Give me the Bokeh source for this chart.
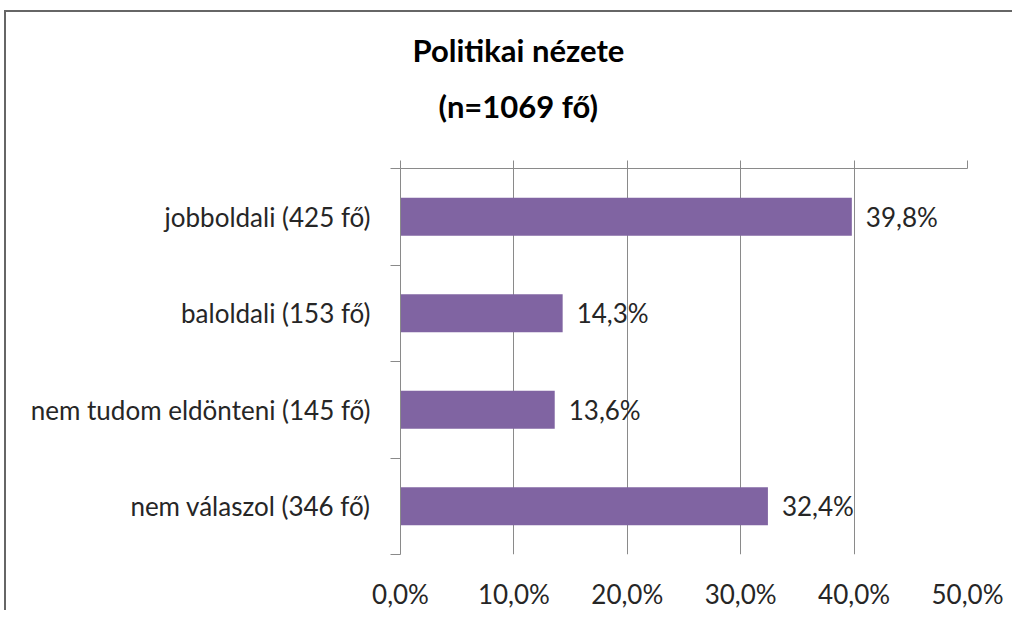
from bokeh.plotting import figure
from bokeh.models import (Range1d, FixedTicker, LinearAxis, Title, ColumnDataSource)
from bokeh.core.properties import value
from bokeh.embed import file_html
from bokeh.resources import INLINE

# ---- data ----
categories = ["jobboldali (425 fő)", "baloldali (153 fő)",
              "nem tudom eldönteni (145 fő)", "nem válaszol (346 fő)"]
shares = [39.8, 14.3, 13.6, 32.4]
x_ticks = [0, 10, 20, 30, 40, 50]
x_tick_labels = ["0,0%", "10,0%", "20,0%", "30,0%", "40,0%", "50,0%"]
title_lines = ["Politikai nézete", "(n=1069 fő)"]

FONT = "Lato"
BAR = "#8064A2"
GRID = "#8a8a8a"
TXT = "#262626"
FS = "26px"

n = len(categories)
ypos = [i + 0.5 for i in range(n)]
labels = [f"{v:.1f}".replace(".", ",") + "%" for v in shares]
src = ColumnDataSource(dict(y=ypos, v=shares, lab=labels, cat=categories))

p = figure(width=1008, height=600, output_backend="svg", toolbar_location=None,
           x_range=Range1d(0, 50), y_range=Range1d(n, 0),
           min_border_left=394, min_border_right=47, min_border_top=156,
           min_border_bottom=56, x_axis_location=None, y_axis_location=None)
p.outline_line_color = None
p.styles = {"box-shadow": "-2px -2px 0px 0px #666666",
            "margin-left": "6px", "margin-top": "12px"}

xt = FixedTicker(ticks=x_ticks, minor_ticks=[])
p.xgrid.ticker = xt
p.xgrid.grid_line_color = GRID
p.ygrid.grid_line_color = None

# top axis: line + outward ticks (as minor ticks), no labels
top = LinearAxis(ticker=FixedTicker(ticks=[], minor_ticks=x_ticks),
                 major_tick_out=0, major_tick_in=0,
                 minor_tick_out=8, minor_tick_in=0,
                 axis_line_color=GRID, minor_tick_line_color=GRID,
                 major_tick_line_color=None, major_label_standoff=0)
p.add_layout(top, "above")

# bottom axis: labels only
bot = LinearAxis(ticker=xt, major_tick_out=0, major_tick_in=0, minor_tick_out=0,
                 axis_line_color=None, major_tick_line_color=None,
                 major_label_standoff=23,
                 major_label_overrides={t: l for t, l in zip(x_ticks, x_tick_labels)},
                 major_label_text_font=FONT, major_label_text_font_size=FS,
                 major_label_text_color=TXT)
p.add_layout(bot, "below")

# left category axis: ticks at boundaries, labels at centres
yt = FixedTicker(ticks=ypos, minor_ticks=list(range(n + 1)))
left = LinearAxis(ticker=yt, major_tick_out=0, major_tick_in=0,
                  minor_tick_out=10, minor_tick_in=0,
                  axis_line_color=GRID, minor_tick_line_color=GRID,
                  major_label_standoff=20,
                  major_label_overrides={y: c for y, c in zip(ypos, categories)},
                  major_label_text_font=FONT, major_label_text_font_size=FS,
                  major_label_text_color=TXT)
p.add_layout(left, "left")

p.hbar(y="y", right="v", left=0, height=0.395, source=src,
       fill_color=BAR, line_color=None)
p.text(x="v", y="y", text="lab", source=src, x_offset=14,
       text_font=value(FONT), text_font_size=FS, text_color=TXT,
       text_baseline="middle", text_align="left")

# titles: second line nearest the frame, first line above it
p.add_layout(Title(text=title_lines[1], align="left", offset=38, standoff=72,
                   text_font=FONT, text_font_style="bold", text_font_size="31px",
                   text_color="#000000"), "above")
p.add_layout(Title(text=title_lines[0], align="left", offset=12, standoff=-40,
                   text_font=FONT, text_font_style="bold", text_font_size="31px",
                   text_color="#000000"), "above")

open("out.html", "w").write(file_html(p, INLINE))
